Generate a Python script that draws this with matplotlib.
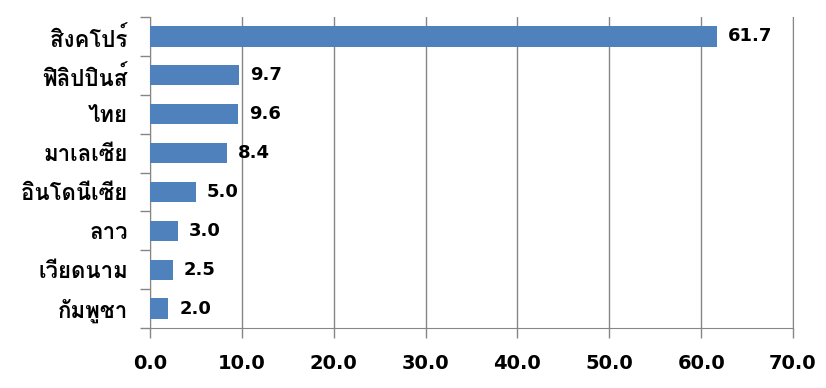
import matplotlib
matplotlib.use("Agg")
import matplotlib.pyplot as plt
import numpy as np

# share of ASEAN (by country)
countries = ['สิงคโปร์', 'ฟิลิปปินส์', 'ไทย', 'มาเลเซีย', 'อินโดนีเซีย', 'ลาว', 'เวียดนาม', 'กัมพูชา']
values = [61.7, 9.7, 9.6, 8.4, 5.0, 3.0, 2.5, 2.0]
xticks = [0, 10, 20, 30, 40, 50, 60, 70]

thai_font = ['Loma', 'DejaVu Sans']
grey = '#868686'

fig = plt.figure(figsize=(8.26, 3.88), dpi=100)
ax = fig.add_axes([150 / 826, 1 - 328 / 388, 643 / 826, 311 / 388])

y = np.arange(len(countries))
ax.barh(y, values, height=0.52, color='#4F81BD', zorder=3)
ax.set_ylim(len(countries) - 0.5, -0.5)
ax.set_xlim(0, 70)

for yi, v in zip(y, values):
    ax.annotate('%.1f' % v, (v, yi), xytext=(8, 0), textcoords='offset points',
                va='center', ha='left', fontsize=13, fontweight='bold',
                family='DejaVu Sans')

ax.set_xticks(xticks)
ax.set_xticklabels(['%.1f' % t for t in xticks], fontsize=14, fontweight='bold',
                   family='DejaVu Sans')
ax.set_yticks(y)
ax.set_yticklabels(countries, fontsize=16, fontweight='bold', family=thai_font)
ax.set_yticks(np.arange(len(countries) + 1) - 0.5, minor=True)

ax.tick_params(axis='y', which='major', length=0, pad=16)
ax.tick_params(axis='y', which='minor', length=7, width=1, color=grey, direction='out')
ax.tick_params(axis='x', length=7, width=1, color=grey, direction='out', pad=12)

ax.grid(axis='x', color=grey, linewidth=1, zorder=0)
ax.spines['top'].set_visible(False)
for s in ['left', 'bottom', 'right']:
    ax.spines[s].set_color(grey)

fig.savefig('out.png')
